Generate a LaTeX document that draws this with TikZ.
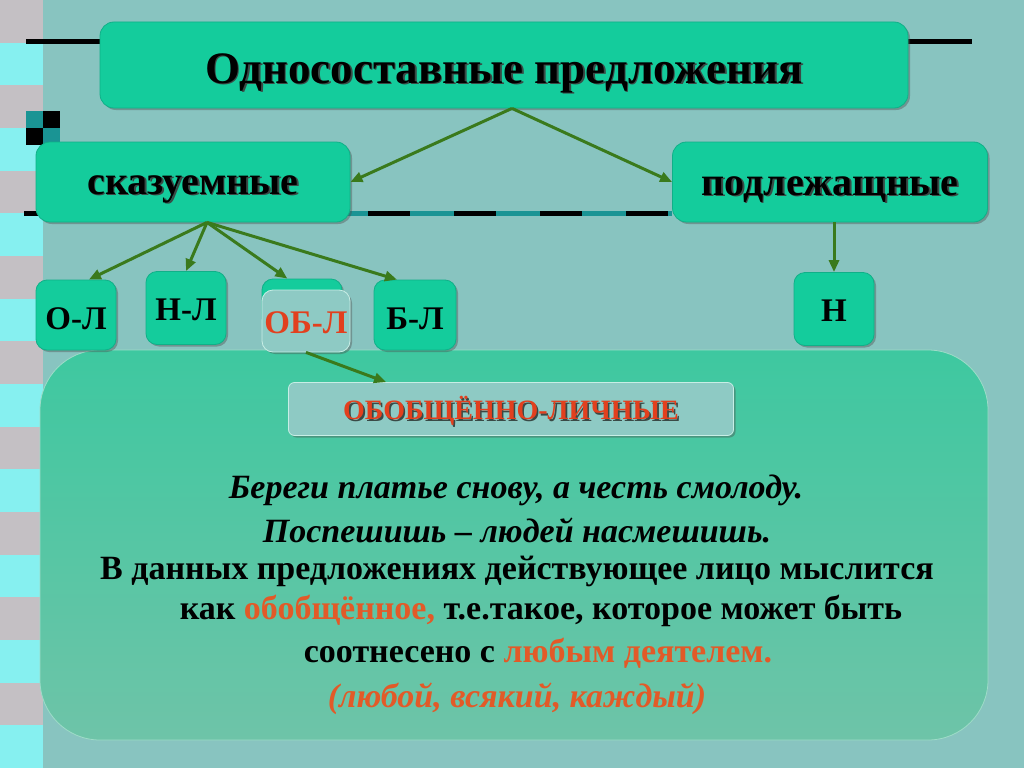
\documentclass[tikz,border=0pt]{standalone}
\usepackage{fontspec}
\setmainfont{Liberation Serif}
\usepackage{xcolor}
\usetikzlibrary{arrows.meta,positioning,calc,shadows}
\definecolor{bgteal}{HTML}{88C4C0}
\definecolor{stripgray}{HTML}{C4C0C4}
\definecolor{stripcyan}{HTML}{86F0F0}
\definecolor{darkteal}{HTML}{1A9494}
\definecolor{boxfill}{HTML}{14CC9C}
\definecolor{boxedge}{HTML}{10B088}
\definecolor{greyfill}{HTML}{8ECAC4}
\definecolor{greyedge}{HTML}{C8EEE6}
\definecolor{bigtop}{HTML}{3EC8A0}
\definecolor{bigbot}{HTML}{6EC4A8}
\definecolor{bigedge}{HTML}{9EDCC8}
\definecolor{arrowgreen}{HTML}{3A7A1C}
\definecolor{redtxt}{HTML}{E2401E}
\definecolor{orangetxt}{HTML}{E25A28}
\definecolor{shadowgray}{HTML}{3A4A46}
\newcommand\shd[1]{\makebox[0pt][l]{\hspace{1.6pt}\raisebox{-1.6pt}{\color{shadowgray}#1}}#1}
\newcommand\dropby[2]{\raisebox{-#1}[\height][\depth]{#2}}
\tikzset{
  box/.style={draw=boxedge, line width=.8pt, rounded corners=14pt, fill=boxfill,
              align=center, inner sep=0pt, font=\bfseries\fontsize{40}{44}\selectfont,
              drop shadow={shadow xshift=2pt, shadow yshift=-2pt, opacity=.4, fill=black!70}},
  small/.style={box, rounded corners=11pt, font=\bfseries\fontsize{33}{36}\selectfont},
  greybox/.style={box, fill=greyfill, draw=greyedge},
  arrow/.style={-{Triangle[length=12pt,width=10pt]}, line width=3pt, draw=arrowgreen},
  txtline/.style={inner sep=0pt, font=\bfseries\fontsize{34}{38}\selectfont},
  itline/.style={inner sep=0pt, font=\bfseries\itshape\fontsize{34}{38}\selectfont}
}
\begin{document}
\begin{tikzpicture}[x=1pt, y=-1pt]
  \useasboundingbox[fill=bgteal] (0,0) rectangle (1024,768);
  % striped margin
  \foreach \i in {0,...,17}{
    \ifodd\i \def\bandcol{stripcyan}\else\def\bandcol{stripgray}\fi
    \fill[\bandcol] (0,\i*42.67) rectangle (43,\i*42.67+42.67);
  }
  % rules and checker
  \draw[line width=5pt] (26,42) -- (972,42);
  \draw[line width=5pt, darkteal] (26,213) -- (672,213);
  \draw[line width=5pt, dash pattern=on 42pt off 44pt] (24,213) -- (672,213);
  \fill[darkteal] (26,111) rectangle (43,128);
  \fill[black] (43,111) rectangle (60,128);
  \fill[black] (26,128) rectangle (43,145);
  \fill[darkteal] (43,128) rectangle (60,145);

  \node[rounded corners=60pt, draw=bigedge, line width=.8pt, top color=bigtop, bottom color=bigbot,
        minimum width=948pt, minimum height=390pt] (big) at (514,545) {};

  \node[box, minimum width=808pt, minimum height=86pt, font=\bfseries\fontsize{45}{48}\selectfont]
       (title) at (504,65) {\dropby{9pt}{\shd{Односоставные предложения}}};
  \node[box, minimum width=314pt, minimum height=80pt] (skaz) at (193,182) {\dropby{8pt}{\shd{сказуемные}}};
  \node[box, minimum width=315pt, minimum height=80pt] (podl) at (830,182) {\dropby{8pt}{\shd{подлежащные}}};

  \node[small, minimum width=80pt, minimum height=70pt] (ol) at (76,315) {\dropby{4pt}{О-Л}};
  \node[small, minimum width=80pt, minimum height=73pt] (nl) at (186,308) {\dropby{2pt}{Н-Л}};
  \node[small, minimum width=80pt, minimum height=50pt] (obback) at (302,304) {};
  \node[greybox, rounded corners=11pt, minimum width=88pt, minimum height=62pt,
        font=\bfseries\fontsize{33}{36}\selectfont, text=redtxt] (obfront) at (306,321) {\dropby{2pt}{ОБ-Л}};
  \node[small, minimum width=82pt, minimum height=70pt] (bl) at (415,315) {\dropby{4pt}{Б-Л}};
  \node[small, minimum width=80pt, minimum height=73pt] (n) at (834,309) {\dropby{2pt}{Н}};

  \node[greybox, rounded corners=6pt, minimum width=445pt, minimum height=53pt,
        font=\bfseries\fontsize{28}{30}\selectfont, text=redtxt] (ogl) at (511,409) {\dropby{3pt}{\shd{ОБОБЩЁННО-ЛИЧНЫЕ}}};

  \node[itline] (txta) at (516,490) {Береги платье снову, а честь смолоду.};
  \node[itline] (txtb) at (517,530) {Поспешишь – людей насмешишь.};
  \node[txtline] (txtc) at (517,571) {В данных предложениях действующее лицо мыслится};
  \node[txtline] (txtd) at (541,611) {как \textcolor{orangetxt}{обобщённое,} т.е.такое, которое может быть};
  \node[txtline] (txte) at (538,653) {соотнесено с \textcolor{orangetxt}{любым деятелем.}};
  \node[itline, text=orangetxt] (txtf) at (517,699) {(любой, всякий, каждый)};

  \coordinate (skazfoot) at ($(skaz.south)+(14,0)$);
  \draw[arrow] ($(title.south)+(8,0)$) -- (skaz.east);
  \draw[arrow] ($(title.south)+(8,0)$) -- (podl.west);
  \draw[arrow] (skazfoot) -- (ol.70);
  \draw[arrow] (skazfoot) -- (nl.north);
  \draw[arrow] (skazfoot) -- (obback.120);
  \draw[arrow] (skazfoot) -- (bl.117);
  \draw[arrow] (podl.south -| n.north) -- (n.north);
  \draw[arrow] (obfront.south) -- ($(ogl.north west)+(98,0)$);
\end{tikzpicture}
\end{document}
